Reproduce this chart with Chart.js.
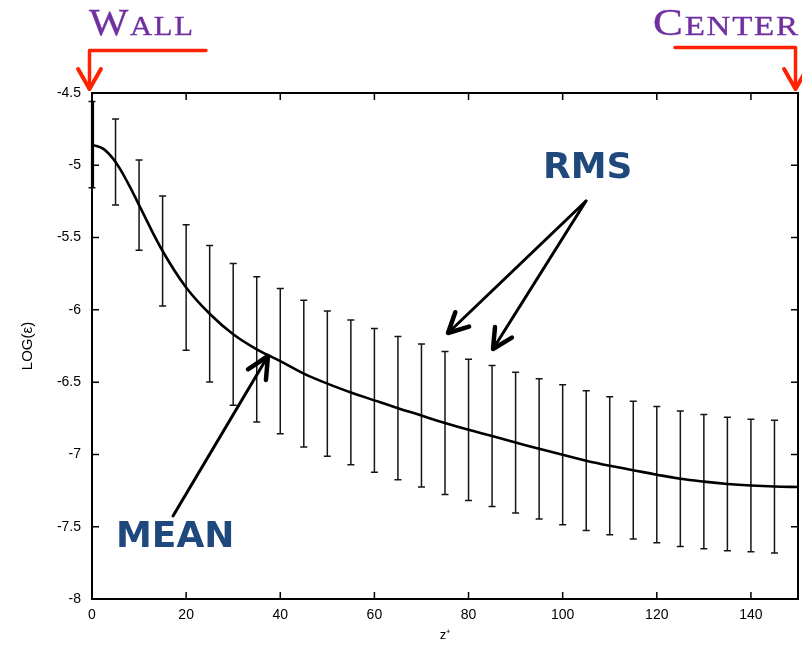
<!DOCTYPE html>
<html>
<head>
<meta charset="utf-8">
<title>Dissipation profile</title>
<script src="https://cdn.jsdelivr.net/npm/chart.js@4.4.1/dist/chart.umd.min.js"></script>
<style>
  html, body { margin: 0; padding: 0; background: #ffffff; }
  canvas { display: block; }
</style>
</head>
<body>
<canvas id="chart" width="802" height="647"></canvas>
<script>
// Wall-normal stations (z+) where the RMS spread is marked
const zPlus = [0, 5, 10, 15, 20, 25, 30, 35, 40, 45, 50, 55, 60, 65, 70, 75,
               80, 85, 90, 95, 100, 105, 110, 115, 120, 125, 130, 135, 140, 145];

// Mean of LOG(epsilon) at each station
const meanLog = [-4.857, -4.977, -5.275, -5.593, -5.845, -6.027, -6.169, -6.273, -6.355, -6.441,
                 -6.510, -6.571, -6.626, -6.680, -6.731, -6.783, -6.830, -6.873, -6.918, -6.961,
                 -7.002, -7.043, -7.078, -7.109, -7.140, -7.168, -7.188, -7.204, -7.215, -7.222];

// RMS of LOG(epsilon) at each station (half-length of each bar)
const rmsLog = [0.298, 0.298, 0.312, 0.381, 0.434, 0.472, 0.490, 0.502, 0.502, 0.507,
                0.502, 0.501, 0.497, 0.495, 0.495, 0.495, 0.489, 0.488, 0.487, 0.485,
                0.484, 0.483, 0.477, 0.476, 0.471, 0.469, 0.464, 0.462, 0.458, 0.459];

// Extra mean samples right at the wall, where the profile flattens out
const nearWallZ = [2.5, 7.5];
const nearWallLog = [-4.888, -5.115];

// Mean value at the channel centre
const centerZ = 150;
const centerLog = -7.225;

// Axis ticks
const xTicks = [0, 20, 40, 60, 80, 100, 120, 140];
const yTicks = [-8, -7.5, -7, -6.5, -6, -5.5, -5, -4.5];
const yTickLabels = ['-8', '-7.5', '-7', '-6.5', '-6', '-5.5', '-5', '-4.5'];

// Mean profile: stations, near-wall samples and the centre point, ordered by z+
const profile = zPlus.map((z, i) => ({ x: z, y: meanLog[i] }))
  .concat(nearWallZ.map((z, i) => ({ x: z, y: nearWallLog[i] })))
  .concat([{ x: centerZ, y: centerLog }])
  .sort((a, b) => a.x - b.x);

const TICK_FONT = { family: "'Liberation Sans', Arial, sans-serif", size: 14 };

// RMS bars: vertical segment mean ± rms with short caps
const rmsBars = {
  id: 'rmsBars',
  beforeDatasetsDraw(chart) {
    const { ctx, scales: { x, y } } = chart;
    ctx.save();
    ctx.strokeStyle = '#151515';
    ctx.lineWidth = 1.5;
    zPlus.forEach((z, i) => {
      const px = x.getPixelForValue(z);
      const yTop = y.getPixelForValue(meanLog[i] + rmsLog[i]);
      const yBot = y.getPixelForValue(meanLog[i] - rmsLog[i]);
      ctx.beginPath();
      ctx.moveTo(px, yTop); ctx.lineTo(px, yBot);
      ctx.moveTo(px - 3.5, yTop); ctx.lineTo(px + 3.5, yTop);
      ctx.moveTo(px - 3.5, yBot); ctx.lineTo(px + 3.5, yBot);
      ctx.stroke();
    });
    ctx.restore();
  }
};

// Closed frame with inward ticks mirrored on all four sides
const frame = {
  id: 'frame',
  afterDatasetsDraw(chart) {
    const { ctx, chartArea: a, scales: { x, y } } = chart;
    ctx.save();
    ctx.strokeStyle = '#000';
    ctx.lineWidth = 2;
    ctx.strokeRect(a.left, a.top, a.right - a.left, a.bottom - a.top);
    ctx.lineWidth = 1.5;
    const len = 7;
    ctx.beginPath();
    xTicks.forEach(v => {
      const px = x.getPixelForValue(v);
      ctx.moveTo(px, a.bottom); ctx.lineTo(px, a.bottom - len);
      ctx.moveTo(px, a.top); ctx.lineTo(px, a.top + len);
    });
    yTicks.forEach(v => {
      const py = y.getPixelForValue(v);
      ctx.moveTo(a.left, py); ctx.lineTo(a.left + len, py);
      ctx.moveTo(a.right, py); ctx.lineTo(a.right - len, py);
    });
    ctx.stroke();
    // the first RMS bar sits on the left border and thickens it
    const x0 = x.getPixelForValue(zPlus[0]);
    ctx.lineWidth = 3.2;
    ctx.beginPath();
    ctx.moveTo(x0 + 0.5, y.getPixelForValue(meanLog[0] + rmsLog[0]));
    ctx.lineTo(x0 + 0.5, y.getPixelForValue(meanLog[0] - rmsLog[0]));
    ctx.stroke();
    ctx.restore();
  }
};

function arrow(ctx, pts, head, spread, lw, headLw, color) {
  ctx.save();
  ctx.strokeStyle = color;
  ctx.lineCap = 'round';
  ctx.lineJoin = 'round';
  ctx.lineWidth = lw;
  ctx.beginPath();
  ctx.moveTo(pts[0][0], pts[0][1]);
  for (let i = 1; i < pts.length; i++) ctx.lineTo(pts[i][0], pts[i][1]);
  ctx.stroke();
  const [x1, y1] = pts[pts.length - 2];
  const [x2, y2] = pts[pts.length - 1];
  const ang = Math.atan2(y2 - y1, x2 - x1);
  ctx.lineWidth = headLw;
  ctx.beginPath();
  ctx.moveTo(x2 - head * Math.cos(ang - spread), y2 - head * Math.sin(ang - spread));
  ctx.lineTo(x2, y2);
  ctx.lineTo(x2 - head * Math.cos(ang + spread), y2 - head * Math.sin(ang + spread));
  ctx.stroke();
  ctx.restore();
}

// Small-caps word: large initial, smaller capitals after it, stretched to a width
function smallCaps(ctx, word, x, baseline, bigSize, smallSize, width, color) {
  const fam = "'Liberation Serif', 'Times New Roman', serif";
  const parts = word.split('').map((ch, i) => ({ ch, font: `${i === 0 ? bigSize : smallSize}px ${fam}` }));
  const gap = 1.5;
  ctx.save();
  ctx.fillStyle = color;
  ctx.strokeStyle = color;
  ctx.lineWidth = 0.35;
  ctx.textBaseline = 'alphabetic';
  ctx.textAlign = 'left';
  let natural = 0;
  parts.forEach(p => { ctx.font = p.font; p.w = ctx.measureText(p.ch).width; natural += p.w; });
  natural += gap * (parts.length - 1);
  ctx.translate(x, baseline);
  ctx.scale(width / natural, 1);
  let cx = 0;
  parts.forEach(p => {
    ctx.font = p.font;
    ctx.fillText(p.ch, cx, 0);
    ctx.strokeText(p.ch, cx, 0);
    cx += p.w + gap;
  });
  ctx.restore();
}

// Region labels, pointers and callouts
const callouts = {
  id: 'callouts',
  afterDraw(chart) {
    const { ctx } = chart;
    const red = '#ff2200';
    const purple = '#7030a0';
    const navy = '#1f497d';

    smallCaps(ctx, 'WALL', 89, 35, 38, 28, 104, purple);
    smallCaps(ctx, 'CENTER', 653, 34.5, 38, 28, 145, purple);

    arrow(ctx, [[206, 50.5], [89.5, 50.5], [89.5, 89]], 23, 0.52, 3.5, 4, red);
    arrow(ctx, [[675, 47.5], [795.5, 47.5], [795.5, 89]], 23, 0.52, 3.5, 4, red);

    ctx.save();
    ctx.fillStyle = navy;
    ctx.font = "bold 36px 'DejaVu Sans', Verdana, sans-serif";
    ctx.textBaseline = 'alphabetic';
    ctx.fillText('RMS', 543, 178);
    ctx.fillText('MEAN', 116, 547);
    ctx.restore();

    arrow(ctx, [[586, 201], [448, 333]], 22, 0.47, 3, 4.5, '#000');
    arrow(ctx, [[586, 201], [493, 349]], 22, 0.47, 3, 4.5, '#000');
    arrow(ctx, [[173, 516], [268, 356]], 24, 0.45, 3, 4.5, '#000');
  }
};

new Chart(document.getElementById('chart'), {
  type: 'line',
  data: {
    datasets: [{
      data: profile,
      borderColor: '#000',
      borderWidth: 2.6,
      pointRadius: 0,
      fill: false,
      tension: 0.4
    }]
  },
  options: {
    responsive: false,
    animation: false,
    devicePixelRatio: 1,
    layout: { padding: { top: 93, right: 4, bottom: 0, left: 0 } },
    plugins: { legend: { display: false }, tooltip: { enabled: false } },
    scales: {
      x: {
        type: 'linear',
        min: 0,
        max: 150,
        afterBuildTicks: s => { s.ticks = xTicks.map(v => ({ value: v })); },
        afterFit: s => { s.height = 48; },
        grid: { display: false, drawTicks: false },
        border: { display: false },
        ticks: { padding: 8, font: TICK_FONT, color: '#000', maxRotation: 0, autoSkip: false },
        title: {
          display: true,
          text: 'z\u207A',
          color: '#000',
          font: { family: "'Liberation Sans', Arial, sans-serif", size: 13 },
          padding: { top: 0, bottom: 4 }
        }
      },
      y: {
        type: 'linear',
        min: -8,
        max: -4.5,
        afterBuildTicks: s => { s.ticks = yTicks.map(v => ({ value: v })); },
        afterFit: s => { s.width = 92; },
        grid: { display: false, drawTicks: false },
        border: { display: false },
        ticks: {
          padding: 11,
          font: TICK_FONT,
          color: '#000',
          autoSkip: false,
          callback: (v) => yTickLabels[yTicks.indexOf(v)]
        },
        title: {
          display: true,
          text: 'LOG(\u03B5)',
          color: '#000',
          font: { family: "'Liberation Sans', Arial, sans-serif", size: 15 },
          padding: { top: 19, bottom: 0 }
        }
      }
    }
  },
  plugins: [rmsBars, frame, callouts]
});
</script>
</body>
</html>
